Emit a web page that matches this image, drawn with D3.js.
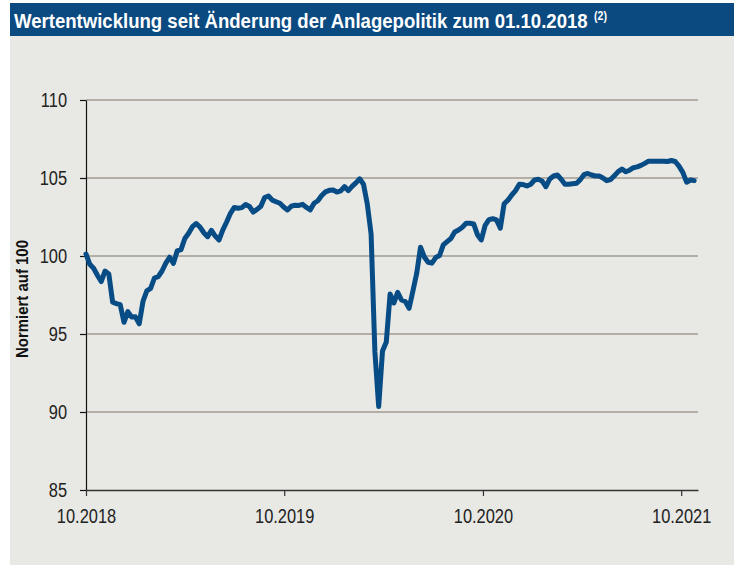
<!DOCTYPE html>
<html>
<head>
<meta charset="utf-8">
<script src="https://cdn.jsdelivr.net/npm/d3@7"></script>
<style>
  body { margin: 0; background: #fff; }
  svg { display: block; }
  .narrow { font-family: "Liberation Sans Narrow", "Arial Narrow", "Liberation Sans", Arial, sans-serif; }
</style>
</head>
<body>
<svg id="chart"></svg>
<script>
const width = 734;
const height = 580;
const margin = { top: 100, right: 36, bottom: 90, left: 86 };

// weekly values, first week starting 01.10.2018
const startDate = "2018-10-01";
const endDate = "2021-11-01";
const values = [
  100.13, 99.47, 99.21, 98.77, 98.36, 99.03, 98.85, 97.04, 96.95, 96.88,
  95.75, 96.43, 96.09, 96.10, 95.65, 97.10, 97.77, 97.93, 98.59, 98.68,
  99.04, 99.54, 99.92, 99.53, 100.33, 100.41, 101.12, 101.46, 101.88, 102.08,
  101.85, 101.49, 101.24, 101.64, 101.28, 101.03, 101.67, 102.18, 102.74, 103.11,
  103.06, 103.10, 103.30, 103.17, 102.82, 102.99, 103.19, 103.75, 103.85, 103.58,
  103.48, 103.38, 103.14, 102.95, 103.19, 103.26, 103.24, 103.31, 103.11, 102.96,
  103.38, 103.54, 103.88, 104.11, 104.21, 104.23, 104.10, 104.17, 104.45, 104.19,
  104.46, 104.69, 104.95, 104.60, 103.33, 101.41, 93.85, 90.35, 93.91, 94.49,
  97.56, 96.99, 97.67, 97.18, 97.08, 96.65, 97.76, 98.89, 100.56, 99.94,
  99.60, 99.54, 99.90, 100.03, 100.71, 100.92, 101.12, 101.54, 101.67, 101.85,
  102.10, 102.10, 102.05, 101.35, 101.03, 101.96, 102.33, 102.39, 102.31, 101.78,
  103.35, 103.58, 103.91, 104.19, 104.60, 104.58, 104.49, 104.60, 104.87, 104.92,
  104.80, 104.44, 104.94, 105.13, 105.19, 104.92, 104.60, 104.60, 104.63, 104.66,
  104.88, 105.21, 105.29, 105.19, 105.13, 105.13, 105.00, 104.83, 104.90, 105.15,
  105.41, 105.58, 105.40, 105.50, 105.66, 105.71, 105.81, 105.94, 106.08, 106.08,
  106.08, 106.08, 106.08, 106.06, 106.12, 106.06, 105.76, 105.36, 104.73, 104.87,
  104.83
];
const yTicks = [85, 90, 95, 100, 105, 110];
const gridTicks = [90, 95, 100, 105, 110];
const xTickDates = ["2018-10-01", "2019-10-01", "2020-10-01", "2021-10-01"];
const xTickLabels = ["10.2018", "10.2019", "10.2020", "10.2021"];

const parse = d3.timeParse("%Y-%m-%d");
const start = parse(startDate);
const data = values.map((v, i) => ({ date: d3.timeDay.offset(start, 7 * i), value: v }));

// no narrow font installed -> squeeze the glyphs
function condense(sel, factor) {
    sel.each(function () {
        const len = this.getComputedTextLength();
        d3.select(this)
            .attr("textLength", len * factor)
            .attr("lengthAdjust", "spacingAndGlyphs");
    });
}

const svg = d3.select("#chart")
    .attr("width", width)
    .attr("height", height);

// panel + title bar
svg.append("rect")
    .attr("x", 10).attr("y", 36)
    .attr("width", width - 10).attr("height", 529)
    .attr("fill", "#e8e8e4");

svg.append("rect")
    .attr("x", 10).attr("y", 3)
    .attr("width", width - 10).attr("height", 33)
    .attr("fill", "#0b4a80");

// title, squeezed horizontally with a transform to ~574px
const titleG = svg.append("g");
const title = titleG.append("text")
    .attr("class", "narrow")
    .attr("fill", "#fff")
    .attr("font-weight", "bold")
    .attr("font-size", 21)
    .text("Wertentwicklung seit Änderung der Anlagepolitik zum 01.10.2018");
const titleScale = 574 / title.node().getComputedTextLength();
titleG.attr("transform", `translate(14,28) scale(${titleScale},1)`);

svg.append("g")
    .attr("transform", `translate(${14 + 574 + 6},20) scale(${titleScale},1)`)
    .append("text")
    .attr("class", "narrow")
    .attr("fill", "#fff")
    .attr("font-weight", "bold")
    .attr("font-size", 12)
    .text("(2)");

const g = svg.append("g")
    .attr("transform", `translate(${margin.left},${margin.top})`);

const w = width - margin.left - margin.right;
const h = height - margin.top - margin.bottom;

const x = d3.scaleTime()
    .domain([start, parse(endDate)])
    .range([0, w]);

const y = d3.scaleLinear()
    .domain([85, 110])
    .range([h, 0]);

// grid lines
g.append("g")
    .selectAll("line")
    .data(gridTicks)
    .enter().append("line")
    .attr("x1", 0).attr("x2", w)
    .attr("y1", d => y(d)).attr("y2", d => y(d))
    .attr("stroke", "#a29d92")
    .attr("stroke-width", 1.5);

// y axis
const yAxis = g.append("g")
    .attr("class", "narrow")
    .call(d3.axisLeft(y).tickValues(yTicks).tickSize(6).tickSizeOuter(0).tickPadding(13));
yAxis.attr("font-family", null);
yAxis.select(".domain").attr("stroke", "#111").attr("stroke-width", 1.2);
yAxis.selectAll(".tick line").attr("stroke", "#111").attr("stroke-width", 1.2);
yAxis.selectAll("text")
    .attr("font-size", 20)
    .attr("fill", "#222");
condense(yAxis.selectAll("text"), 0.82);

// x axis
const xAxis = g.append("g")
    .attr("class", "narrow")
    .attr("transform", `translate(0,${h})`)
    .call(d3.axisBottom(x)
        .tickValues(xTickDates.map(parse))
        .tickFormat((d, i) => xTickLabels[i])
        .tickSize(6).tickSizeOuter(0).tickPadding(13));
xAxis.attr("font-family", null);
xAxis.select(".domain").attr("stroke", "#333").attr("stroke-width", 1.6);
xAxis.selectAll(".tick line").attr("stroke", "#333").attr("stroke-width", 1.2);
xAxis.selectAll("text")
    .attr("font-size", 20)
    .attr("fill", "#222");
condense(xAxis.selectAll("text"), 0.82);

// y label
svg.append("text")
    .attr("class", "narrow")
    .attr("transform", "translate(28,299) rotate(-90)")
    .attr("text-anchor", "middle")
    .attr("font-weight", "bold")
    .attr("font-size", 17)
    .attr("fill", "#111")
    .attr("textLength", 118)
    .attr("lengthAdjust", "spacingAndGlyphs")
    .text("Normiert auf 100");

// the line
const line = d3.line()
    .x(d => x(d.date))
    .y(d => y(d.value));

g.append("path")
    .datum(data)
    .attr("fill", "none")
    .attr("stroke", "#084c86")
    .attr("stroke-width", 5)
    .attr("stroke-linejoin", "round")
    .attr("stroke-linecap", "round")
    .attr("d", line);
</script>
</body>
</html>
